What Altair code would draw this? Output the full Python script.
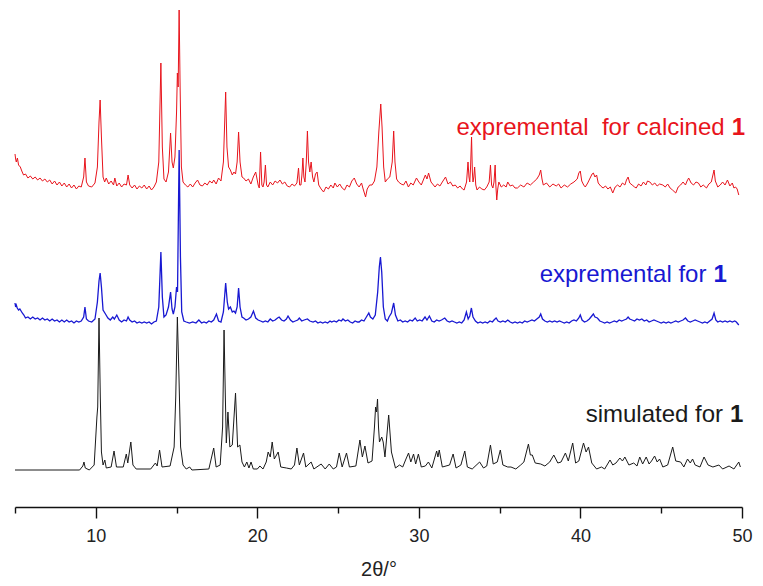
import altair as alt
import pandas as pd

# ---------------- data (2theta in degrees, intensity in a.u. incl. stacking offset)
calcined_trace = [
    (5.00, 353), (5.04, 348), (5.08, 345), (5.15, 349), (5.22, 342), (5.33, 340), (5.42, 336), (5.53, 332),
    (5.65, 333), (5.80, 329), (5.95, 331), (6.10, 328), (6.25, 330), (6.40, 327), (6.55, 329), (6.70, 326),
    (6.85, 328), (7.00, 325), (7.15, 327), (7.30, 323), (7.45, 326), (7.60, 322), (7.75, 325), (7.90, 321),
    (8.05, 324), (8.20, 320), (8.35, 323), (8.50, 319), (8.65, 322), (8.80, 318), (8.95, 321), (9.10, 320),
    (9.25, 330), (9.33, 349), (9.42, 325), (9.55, 321), (9.75, 320), (9.95, 324), (10.10, 340), (10.20, 385),
    (10.27, 407), (10.35, 370), (10.45, 330), (10.55, 325), (10.65, 329), (10.80, 323), (10.95, 326), (11.10, 322),
    (11.18, 329), (11.30, 321), (11.45, 324), (11.60, 320), (11.75, 323), (11.90, 322), (12.00, 332), (12.10, 322),
    (12.25, 319), (12.40, 322), (12.55, 318), (12.70, 321), (12.85, 319), (13.00, 322), (13.15, 318), (13.30, 321),
    (13.45, 317), (13.60, 320), (13.75, 325), (13.90, 345), (14.03, 444), (14.12, 360), (14.22, 328), (14.35, 325),
    (14.50, 335), (14.63, 374), (14.72, 345), (14.80, 339), (14.90, 350), (15.00, 395), (15.05, 434), (15.10, 420),
    (15.16, 497), (15.22, 420), (15.30, 340), (15.40, 325), (15.55, 322), (15.70, 320), (15.85, 323), (16.00, 320),
    (16.15, 324), (16.30, 327), (16.45, 322), (16.60, 321), (16.75, 324), (16.90, 322), (17.05, 326), (17.20, 324),
    (17.30, 327), (17.45, 323), (17.60, 329), (17.75, 326), (17.90, 345), (18.04, 415), (18.12, 360), (18.22, 340),
    (18.33, 337), (18.45, 332), (18.55, 335), (18.65, 333), (18.75, 345), (18.84, 375), (18.93, 345), (19.05, 330),
    (19.15, 329), (19.30, 326), (19.45, 328), (19.60, 323), (19.75, 330), (19.90, 335), (20.05, 322), (20.12, 319),
    (20.20, 355), (20.28, 322), (20.35, 320), (20.42, 325), (20.50, 342), (20.57, 322), (20.65, 320), (20.80, 325),
    (20.95, 322), (21.10, 326), (21.25, 324), (21.40, 327), (21.55, 323), (21.70, 325), (21.85, 321), (22.00, 320),
    (22.15, 323), (22.30, 321), (22.45, 324), (22.55, 339), (22.62, 322), (22.70, 322), (22.76, 332), (22.82, 349),
    (22.88, 330), (22.95, 325), (23.03, 345), (23.10, 376), (23.17, 345), (23.25, 335), (23.33, 345), (23.42, 330),
    (23.50, 325), (23.60, 333), (23.70, 335), (23.80, 322), (23.95, 318), (24.10, 315), (24.25, 320), (24.40, 318),
    (24.55, 322), (24.70, 319), (24.80, 324), (24.95, 320), (25.10, 323), (25.25, 319), (25.40, 317), (25.55, 322),
    (25.70, 320), (25.85, 326), (26.00, 329), (26.15, 323), (26.30, 320), (26.45, 324), (26.55, 318), (26.70, 310),
    (26.80, 318), (26.95, 322), (27.10, 322), (27.25, 326), (27.40, 340), (27.52, 375), (27.64, 403), (27.72, 380),
    (27.82, 340), (27.92, 325), (28.05, 328), (28.20, 330), (28.35, 345), (28.44, 376), (28.52, 345), (28.62, 328),
    (28.74, 325), (28.90, 323), (29.05, 322), (29.20, 326), (29.35, 320), (29.50, 324), (29.65, 322), (29.85, 329),
    (30.00, 325), (30.15, 322), (30.40, 332), (30.50, 328), (30.60, 334), (30.75, 325), (30.90, 322), (31.00, 320),
    (31.15, 323), (31.30, 321), (31.45, 325), (31.65, 330), (31.80, 323), (31.95, 325), (32.10, 321), (32.25, 322),
    (32.40, 319), (32.55, 321), (32.70, 318), (32.80, 317), (32.95, 325), (33.04, 345), (33.10, 330), (33.15, 325),
    (33.20, 340), (33.26, 370), (33.31, 335), (33.35, 325), (33.40, 330), (33.45, 340), (33.52, 322), (33.60, 317),
    (33.75, 320), (33.90, 318), (34.05, 317), (34.20, 320), (34.35, 325), (34.43, 342), (34.50, 322), (34.58, 319),
    (34.65, 325), (34.72, 342), (34.77, 320), (34.82, 307), (34.88, 318), (34.95, 325), (35.10, 320), (35.25, 322),
    (35.40, 320), (35.50, 325), (35.65, 321), (35.80, 322), (35.95, 319), (36.10, 319), (36.30, 322), (36.50, 320),
    (36.70, 324), (36.90, 322), (37.10, 325), (37.30, 328), (37.45, 332), (37.54, 337), (37.62, 328), (37.70, 322),
    (37.90, 324), (38.10, 320), (38.30, 323), (38.50, 321), (38.65, 323), (38.80, 319), (39.00, 322), (39.20, 320),
    (39.40, 323), (39.60, 325), (39.80, 328), (39.90, 334), (39.99, 336), (40.08, 326), (40.20, 322), (40.30, 320),
    (40.45, 324), (40.60, 329), (40.72, 333), (40.80, 334), (40.90, 330), (41.00, 332), (41.10, 324), (41.25, 321),
    (41.40, 319), (41.55, 321), (41.70, 318), (41.85, 320), (42.00, 314), (42.15, 320), (42.30, 322), (42.45, 320),
    (42.60, 324), (42.75, 322), (42.85, 327), (42.95, 330), (43.05, 324), (43.20, 322), (43.35, 320), (43.45, 319),
    (43.60, 323), (43.75, 321), (43.90, 325), (44.05, 322), (44.15, 326), (44.30, 325), (44.45, 322), (44.60, 324),
    (44.75, 321), (44.90, 323), (45.10, 322), (45.25, 320), (45.40, 323), (45.55, 319), (45.70, 317), (45.90, 314),
    (46.05, 320), (46.20, 322), (46.35, 325), (46.50, 322), (46.60, 326), (46.70, 329), (46.85, 324), (47.00, 322),
    (47.15, 325), (47.30, 324), (47.45, 320), (47.60, 322), (47.80, 319), (47.95, 323), (48.10, 325), (48.20, 332),
    (48.27, 337), (48.35, 326), (48.50, 320), (48.65, 322), (48.80, 325), (48.95, 322), (49.10, 327), (49.25, 321),
    (49.40, 324), (49.50, 319), (49.60, 320), (49.70, 318), (49.80, 312),
]

experimental_trace = [
    (5.00, 204), (5.04, 200), (5.08, 202), (5.14, 199), (5.22, 197), (5.30, 198), (5.45, 194), (5.55, 192),
    (5.65, 189), (5.80, 190), (5.95, 188), (6.10, 190), (6.25, 188), (6.40, 189), (6.55, 187), (6.70, 189),
    (6.85, 187), (7.00, 188), (7.15, 186), (7.30, 188), (7.45, 186), (7.60, 187), (7.75, 185), (7.90, 187),
    (8.05, 185), (8.20, 187), (8.35, 185), (8.50, 186), (8.65, 184), (8.80, 186), (8.95, 185), (9.10, 186),
    (9.25, 190), (9.33, 200), (9.42, 188), (9.55, 186), (9.75, 185), (9.95, 188), (10.10, 205), (10.20, 226),
    (10.27, 234), (10.35, 220), (10.45, 197), (10.60, 193), (10.75, 189), (10.90, 187), (11.05, 190), (11.15, 188),
    (11.30, 192), (11.45, 187), (11.60, 185), (11.75, 187), (11.90, 186), (12.00, 190), (12.10, 187), (12.25, 185),
    (12.40, 186), (12.55, 184), (12.70, 185), (12.85, 184), (13.00, 185), (13.15, 184), (13.30, 185), (13.45, 183),
    (13.60, 185), (13.75, 186), (13.90, 200), (14.03, 255), (14.12, 210), (14.22, 190), (14.35, 192), (14.50, 200),
    (14.63, 215), (14.72, 198), (14.80, 193), (14.90, 200), (15.00, 220), (15.06, 215), (15.16, 357), (15.24, 250),
    (15.32, 195), (15.45, 186), (15.60, 185), (15.80, 184), (16.00, 185), (16.20, 184), (16.38, 187), (16.55, 184),
    (16.70, 185), (16.85, 184), (17.00, 186), (17.15, 185), (17.30, 187), (17.47, 193), (17.60, 186), (17.75, 185),
    (17.90, 195), (18.04, 224), (18.14, 205), (18.22, 198), (18.33, 200), (18.45, 195), (18.55, 196), (18.65, 194),
    (18.75, 200), (18.84, 219), (18.93, 200), (19.05, 190), (19.15, 189), (19.30, 187), (19.45, 188), (19.60, 190),
    (19.76, 196), (19.90, 189), (20.05, 187), (20.20, 186), (20.35, 185), (20.50, 186), (20.65, 185), (20.80, 188),
    (20.95, 186), (21.10, 187), (21.25, 189), (21.35, 190), (21.50, 187), (21.65, 186), (21.80, 188), (21.90, 191),
    (22.05, 187), (22.20, 185), (22.35, 186), (22.50, 187), (22.60, 189), (22.75, 186), (22.90, 187), (23.10, 188),
    (23.25, 186), (23.45, 185), (23.60, 186), (23.75, 184), (23.90, 185), (24.05, 184), (24.20, 185), (24.35, 184),
    (24.50, 186), (24.60, 185), (24.75, 186), (24.90, 185), (25.05, 187), (25.20, 186), (25.30, 188), (25.45, 186),
    (25.60, 187), (25.75, 185), (25.90, 184), (26.05, 186), (26.20, 185), (26.30, 185), (26.45, 187), (26.60, 186),
    (26.75, 190), (26.90, 194), (27.00, 190), (27.15, 188), (27.30, 192), (27.45, 215), (27.55, 240), (27.62, 250),
    (27.70, 235), (27.80, 200), (27.92, 188), (28.05, 186), (28.15, 190), (28.30, 194), (28.44, 204), (28.55, 192),
    (28.70, 186), (28.85, 187), (29.00, 185), (29.15, 186), (29.30, 185), (29.45, 187), (29.60, 186), (29.77, 189),
    (29.90, 186), (30.05, 187), (30.20, 186), (30.38, 190), (30.50, 187), (30.65, 191), (30.80, 186), (30.95, 185),
    (31.10, 187), (31.25, 186), (31.40, 187), (31.60, 189), (31.75, 186), (31.90, 185), (32.05, 186), (32.20, 185),
    (32.35, 184), (32.50, 185), (32.65, 184), (32.80, 187), (32.94, 195), (33.05, 188), (33.15, 191), (33.25, 199),
    (33.35, 190), (33.50, 186), (33.65, 184), (33.80, 185), (33.95, 184), (34.10, 185), (34.25, 184), (34.40, 186),
    (34.55, 185), (34.65, 187), (34.78, 189), (34.90, 186), (35.05, 185), (35.20, 186), (35.35, 185), (35.50, 187),
    (35.65, 185), (35.80, 184), (35.95, 185), (36.10, 184), (36.25, 185), (36.40, 184), (36.55, 186), (36.70, 185),
    (36.85, 186), (37.00, 187), (37.15, 186), (37.30, 188), (37.45, 190), (37.54, 193), (37.65, 188), (37.80, 186),
    (37.95, 185), (38.10, 186), (38.25, 185), (38.40, 186), (38.55, 185), (38.70, 186), (38.85, 185), (39.00, 184),
    (39.15, 185), (39.30, 184), (39.45, 186), (39.60, 187), (39.75, 186), (39.90, 189), (39.99, 192), (40.10, 187),
    (40.25, 185), (40.40, 186), (40.55, 188), (40.70, 191), (40.80, 193), (40.90, 190), (41.05, 189), (41.20, 186),
    (41.35, 185), (41.50, 184), (41.65, 185), (41.80, 184), (41.95, 185), (42.10, 186), (42.25, 185), (42.40, 187),
    (42.55, 186), (42.70, 187), (42.85, 188), (42.95, 190), (43.05, 188), (43.20, 187), (43.35, 186), (43.50, 188),
    (43.65, 187), (43.80, 188), (43.95, 186), (44.10, 187), (44.25, 185), (44.40, 186), (44.55, 187), (44.70, 186),
    (44.85, 185), (45.00, 184), (45.15, 185), (45.30, 184), (45.45, 185), (45.60, 184), (45.75, 185), (45.90, 186),
    (46.05, 185), (46.20, 186), (46.35, 187), (46.50, 189), (46.65, 186), (46.80, 185), (46.95, 186), (47.10, 187),
    (47.25, 186), (47.40, 185), (47.55, 184), (47.70, 185), (47.85, 184), (48.00, 186), (48.15, 188), (48.27, 194),
    (48.38, 187), (48.50, 185), (48.65, 186), (48.80, 185), (48.95, 186), (49.10, 185), (49.25, 186), (49.40, 185),
    (49.55, 186), (49.65, 185), (49.80, 182),
]

simulated_trace = [
    (5.00, 37), (9.00, 37), (9.20, 41), (9.27, 45), (9.35, 39), (9.60, 37), (9.90, 42), (10.07, 90), (10.12, 100),
    (10.20, 189), (10.28, 110), (10.35, 55), (10.45, 42), (10.56, 47), (10.65, 39), (10.95, 40), (11.13, 56),
    (11.28, 40), (11.70, 40), (11.89, 53), (11.98, 44), (12.17, 65), (12.30, 42), (12.50, 38), (13.40, 38),
    (13.69, 44), (13.80, 41), (13.95, 57), (14.10, 40), (14.60, 41), (14.85, 60), (14.95, 110), (15.05, 190),
    (15.15, 130), (15.25, 60), (15.40, 42), (15.60, 38), (15.81, 40), (15.95, 37), (17.00, 38), (17.30, 59),
    (17.45, 40), (17.70, 42), (17.85, 80), (17.94, 177), (18.02, 110), (18.08, 64), (18.18, 95), (18.30, 60),
    (18.45, 62), (18.65, 114), (18.78, 60), (18.92, 62), (19.05, 45), (19.20, 40), (19.35, 45), (19.48, 39),
    (19.61, 45), (19.75, 38), (20.00, 38), (20.16, 41), (20.35, 38), (20.55, 45), (20.67, 55), (20.80, 50),
    (20.92, 65), (21.05, 48), (21.29, 55), (21.45, 40), (21.80, 39), (22.10, 38), (22.30, 42), (22.45, 59),
    (22.60, 42), (22.86, 54), (23.00, 40), (23.33, 45), (23.50, 38), (23.95, 43), (24.20, 38), (24.45, 43),
    (24.70, 38), (24.90, 40), (25.07, 54), (25.25, 40), (25.52, 54), (25.70, 40), (26.10, 41), (26.35, 67),
    (26.50, 50), (26.66, 61), (26.85, 44), (27.10, 46), (27.25, 80), (27.32, 100), (27.38, 95), (27.44, 108),
    (27.50, 80), (27.56, 65), (27.70, 70), (27.79, 65), (27.90, 50), (28.13, 92), (28.30, 55), (28.55, 39),
    (28.80, 42), (29.00, 40), (29.20, 48), (29.36, 54), (29.50, 45), (29.67, 53), (29.80, 43), (29.97, 53),
    (30.15, 40), (30.40, 41), (30.59, 45), (30.80, 39), (31.10, 56), (31.18, 50), (31.26, 57), (31.45, 40),
    (31.90, 42), (32.12, 53), (32.30, 39), (32.60, 42), (32.84, 56), (33.00, 40), (33.30, 38), (33.76, 45),
    (34.00, 39), (34.20, 41), (34.43, 62), (34.60, 43), (34.85, 45), (35.04, 57), (35.20, 42), (35.50, 40),
    (35.70, 40), (36.00, 38), (36.30, 42), (36.50, 45), (36.78, 63), (36.90, 52), (37.02, 52), (37.20, 44),
    (37.54, 43), (37.80, 41), (38.10, 45), (38.35, 52), (38.60, 44), (38.80, 45), (39.07, 54), (39.25, 46),
    (39.52, 64), (39.70, 44), (39.90, 46), (40.19, 64), (40.35, 55), (40.50, 60), (40.70, 44), (41.00, 38),
    (41.30, 40), (41.50, 38), (41.83, 47), (42.00, 42), (42.20, 44), (42.44, 49), (42.60, 46), (42.75, 50),
    (43.00, 42), (43.30, 44), (43.50, 41), (43.67, 50), (43.85, 43), (44.07, 50), (44.25, 43), (44.40, 46),
    (44.59, 51), (44.75, 45), (44.90, 48), (45.10, 40), (45.40, 42), (45.71, 60), (45.90, 46), (46.20, 45),
    (46.40, 40), (46.63, 48), (46.80, 44), (46.94, 48), (47.10, 42), (47.40, 40), (47.65, 50), (47.90, 42),
    (48.20, 40), (48.57, 42), (48.80, 38), (49.20, 41), (49.50, 38), (49.80, 45), (49.90, 40),
]

label_main = ["expremental\u00a0 for calcined", "expremental for", "simulated for"]
label_bold = ["1", "1", "1"]
label_2theta = [49.36, 48.23, 49.26]
label_int = [372, 225, 85]
series_colors = ["#e8141c", "#1818d2", "#1a1a1a"]
x_ticks = [5, 10, 15, 20, 25, 30, 35, 40, 45, 50]


def to_df(trace):
    return pd.DataFrame(
        {"two_theta": [p[0] for p in trace], "intensity": [p[1] for p in trace], "order": list(range(len(trace)))}
    )


x_enc = alt.X(
    "two_theta:Q",
    scale=alt.Scale(domain=[5, 50], nice=False, zero=False),
    axis=alt.Axis(
        values=x_ticks,
        labelExpr="datum.value % 10 === 0 ? datum.label : ''",
        tickSize={"condition": {"test": "datum.value % 10 === 0", "value": 11}, "value": 6},
        title="2θ/°",
        grid=False,
        domainColor="#111",
        domainWidth=1.4,
        tickColor="#111",
        tickWidth=1.4,
        labelFont="Liberation Sans",
        labelFontSize=18,
        labelColor="#222",
        labelPadding=9,
        labelFlush=False,
        titleFont="Liberation Sans",
        titleFontSize=20,
        titleFontWeight="normal",
        titleColor="#222",
        titleY=68,
        titleBaseline="alphabetic",
    ),
)
y_enc = alt.Y("intensity:Q", scale=alt.Scale(domain=[0, 499], nice=False, zero=False), axis=None)


def line(trace, color, width):
    return alt.Chart(to_df(trace)).mark_line(color=color, strokeWidth=width, interpolate="linear").encode(
        x=x_enc, y=y_enc, order="order:Q"
    )


labels_df = pd.DataFrame(
    {
        "main": label_main,
        "bold": label_bold,
        "two_theta": label_2theta,
        "intensity": label_int,
        "color": series_colors,
    }
)

text_main = alt.Chart(labels_df).mark_text(
    align="right", baseline="alphabetic", dx=-7, font="Liberation Sans", fontSize=24
).encode(x=x_enc, y=y_enc, text="main:N", color=alt.Color("color:N", scale=None))

text_bold = alt.Chart(labels_df).mark_text(
    align="left", baseline="alphabetic", font="Liberation Sans", fontSize=24, fontWeight="bold"
).encode(x=x_enc, y=y_enc, text="bold:N", color=alt.Color("color:N", scale=None))

chart = (
    alt.layer(
        line(simulated_trace, series_colors[2], 1.0),
        line(calcined_trace, series_colors[0], 1.0),
        line(experimental_trace, series_colors[1], 1.3),
        text_main,
        text_bold,
    )
    .properties(
        width=727,
        height=499,
        autosize=alt.AutoSizeParams(type="none"),
        padding={"left": 7, "top": 0, "right": 13, "bottom": 71},
        background="white",
    )
    .configure_view(stroke=None)
)

chart.save("out.html", embed_options={"renderer": "svg", "actions": False})
